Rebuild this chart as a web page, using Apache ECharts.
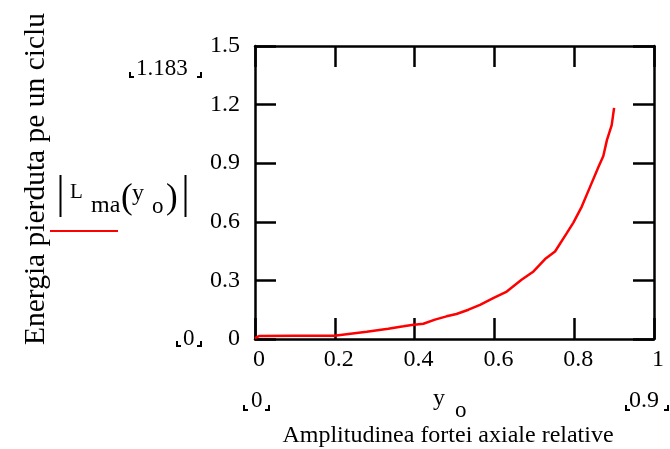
<!DOCTYPE html>
<html><head><meta charset="utf-8">
<script src="https://cdn.jsdelivr.net/npm/echarts@6/dist/echarts.min.js"></script>
<style>html,body{margin:0;padding:0;background:#fff}#c{width:670px;height:449px}</style>
</head><body><div id="c"></div>
<script>
// relative axial force amplitude y_o
const yo = [0, 0.01, 0.1, 0.199, 0.201, 0.28, 0.334, 0.372, 0.393, 0.422, 0.451, 0.48, 0.505, 0.535, 0.564, 0.597, 0.631, 0.668, 0.698, 0.727, 0.752, 0.781, 0.798, 0.819, 0.84, 0.861, 0.873, 0.882, 0.894, 0.9];
// energy lost per cycle |L_ma(y_o)|
const Lma = [0.005, 0.015, 0.017, 0.017, 0.027, 0.037, 0.053, 0.065, 0.072, 0.078, 0.099, 0.116, 0.128, 0.15, 0.175, 0.209, 0.243, 0.303, 0.346, 0.409, 0.448, 0.541, 0.596, 0.678, 0.78, 0.882, 0.937, 1.018, 1.095, 1.183];
const xTicks = [0, 0.2, 0.4, 0.6, 0.8, 1];
const yTicks = [0, 0.3, 0.6, 0.9, 1.2, 1.5];

const FONT = '"Liberation Serif","Times New Roman",serif';
const chart = echarts.init(document.getElementById('c'));
const fmt = v => String(+v.toFixed(2));
const axisCommon = () => ({
  axisLine: {show: true, onZero: false, lineStyle: {color: '#000', width: 2.5}},
  axisTick: {show: true, inside: true, length: 21, lineStyle: {color: '#000', width: 2.5}},
  splitLine: {show: false}
});
function bracket(x, y) {
  return {type: 'polyline', shape: {points: [[x, y - 5], [x, y], [x + 4, y]]}, style: {stroke: '#000', lineWidth: 2, fill: null}};
}
function bracketR(x, y) {
  return {type: 'polyline', shape: {points: [[x - 4, y], [x, y], [x, y - 5]]}, style: {stroke: '#000', lineWidth: 2, fill: null}};
}
const txt = (x, y, s, size) => ({type: 'text', x, y, style: {text: s, font: size + 'px ' + FONT, fill: '#000', textVerticalAlign: 'middle'}});

chart.setOption({
  animation: false,
  grid: {left: 255, top: 46, width: 399, height: 293, show: false},
  xAxis: [
    Object.assign({type: 'value', min: 0, max: 1, interval: 0.2, position: 'bottom',
      axisLabel: {fontFamily: FONT, fontSize: 24, color: '#000', margin: 9, padding: [0, 0, 0, 8], formatter: fmt,
        customValues: xTicks}}, axisCommon()),
    Object.assign({type: 'value', min: 0, max: 1, interval: 0.2, position: 'top', axisLabel: {show: false}}, axisCommon())
  ],
  yAxis: [
    Object.assign({type: 'value', min: 0, max: 1.5, interval: 0.3, position: 'left',
      axisLabel: {fontFamily: FONT, fontSize: 24, color: '#000', margin: 15, formatter: fmt, customValues: yTicks}}, axisCommon()),
    Object.assign({type: 'value', min: 0, max: 1.5, interval: 0.3, position: 'right', axisLabel: {show: false}}, axisCommon())
  ],
  series: [{
    type: 'line', data: yo.map((x, i) => [x, Lma[i]]), showSymbol: false, symbol: 'none',
    lineStyle: {color: '#ff0000', width: 2.5}, z: 1
  }],
  graphic: [
    {type: 'text', x: 36, y: 179, rotation: Math.PI / 2, style: {text: 'Energia pierduta pe un ciclu', font: '29.5px ' + FONT, fill: '#000', textAlign: 'center', textVerticalAlign: 'middle'}},
    txt(136, 69, '1.183', 23), bracket(130, 77), bracketR(201, 77),
    txt(183, 339, '0', 23), bracket(177, 346), bracketR(201, 346),
    {type: 'line', shape: {x1: 60.5, y1: 175, x2: 60.5, y2: 217}, style: {stroke: '#000', lineWidth: 2}},
    {type: 'line', shape: {x1: 185.5, y1: 175, x2: 185.5, y2: 217}, style: {stroke: '#000', lineWidth: 2}},
    txt(70, 192, 'L', 21), txt(91, 206, 'ma', 24),
    {type: 'text', x: 121, y: 199, style: {text: '(', font: '35px ' + FONT, fill: '#000', textVerticalAlign: 'middle'}},
    txt(132, 194, 'y', 24), txt(152, 207, 'o', 23),
    {type: 'text', x: 166, y: 199, style: {text: ')', font: '35px ' + FONT, fill: '#000', textVerticalAlign: 'middle'}},
    {type: 'line', shape: {x1: 50, y1: 231, x2: 118, y2: 231}, style: {stroke: '#ff0000', lineWidth: 2}},
    txt(251, 401, '0', 23), bracket(244, 410), bracketR(269, 410),
    txt(433, 399, 'y', 24), txt(455, 411, 'o', 23),
    txt(629, 401, '0.9', 24), bracket(626, 410), bracketR(668, 410),
    {type: 'text', x: 448, y: 436, style: {text: 'Amplitudinea fortei axiale relative', font: '24px ' + FONT, fill: '#000', textAlign: 'center', textVerticalAlign: 'middle'}}
  ]
});
</script></body></html>
